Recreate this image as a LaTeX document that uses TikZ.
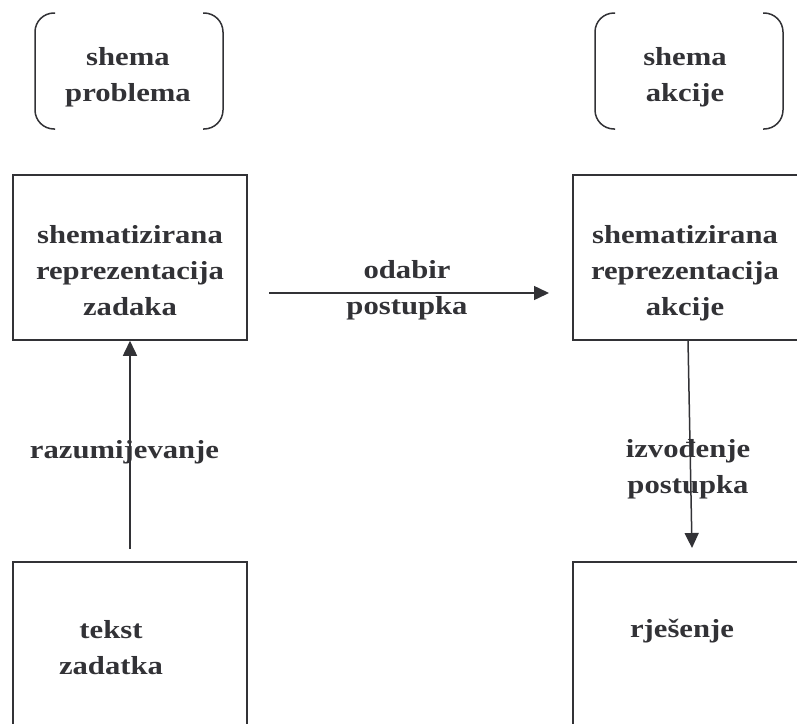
\documentclass[tikz,border=0pt]{standalone}
\usepackage{fontspec}
\setmainfont{Liberation Serif}
\usetikzlibrary{arrows.meta}
\definecolor{ink}{RGB}{50,50,54}
\newcommand{\mytxt}[1]{\fontsize{26}{36}\selectfont\bfseries\begin{tabular}[t]{@{}c@{}}#1\end{tabular}}
\tikzset{
  lbl/.style={text=ink, inner sep=0pt, anchor=base, xscale=1.18},
  box/.style={draw=ink, line width=1.5pt, rectangle, inner sep=0pt},
  brk/.style={draw=ink, line width=1.5pt, rounded corners=19pt},
  arr/.style={draw=ink, line width=1.5pt, -{Triangle[length=15pt,width=14pt]}}
}
\begin{document}
\begin{tikzpicture}[x=1pt,y=-1pt]
\useasboundingbox (0,0) rectangle (797,723);
% brackets
\draw[brk] (55,13) -- (35,13) -- (35,129) -- (55,129);
\draw[brk] (203,13) -- (223,13) -- (223,129) -- (203,129);
\draw[brk] (615,13) -- (595,13) -- (595,129) -- (615,129);
\draw[brk] (763,13) -- (783,13) -- (783,129) -- (763,129);
\node[lbl] (s1) at (128,65) {\mytxt{shema\\problema}};
\node[lbl] (s2) at (685,65) {\mytxt{shema\\akcije}};
% boxes
\node[box, minimum width=234pt, minimum height=165pt] (b1) at (130,257.5) {};
\node[box, minimum width=232pt, minimum height=165pt] (b2) at (689,257.5) {};
\node[box, minimum width=234pt, minimum height=178pt] (b3) at (130,651) {};
\node[box, minimum width=232pt, minimum height=178pt] (b4) at (689,651) {};
\node[lbl] (t1) at (130,243) {\mytxt{shematizirana\\reprezentacija\\zadaka}};
\node[lbl] (t2) at (685,243) {\mytxt{shematizirana\\reprezentacija\\akcije}};
\node[lbl] (t3) at (111,638) {\mytxt{tekst\\zadatka}};
\node[lbl] (t4) at (682,637) {\mytxt{rješenje}};
% connectors
\coordinate (c1) at (130,549);
\draw[arr] (c1) -- (b1.south);
\coordinate (c2) at (269,293);
\coordinate (c3) at (549,293);
\draw[arr] (c2) -- (c3);
\coordinate (c4) at (688,340);
\coordinate (c5) at (692,548);
\draw[arr] (c4) -- (c5);
% connector labels
\node[lbl] (l1) at (407,278) {\mytxt{odabir\\postupka}};
\node[lbl] (l2) at (124.5,458) {\mytxt{razumijevanje}};
\node[lbl] (l3) at (688,457) {\mytxt{izvođenje\\postupka}};
\end{tikzpicture}
\end{document}
